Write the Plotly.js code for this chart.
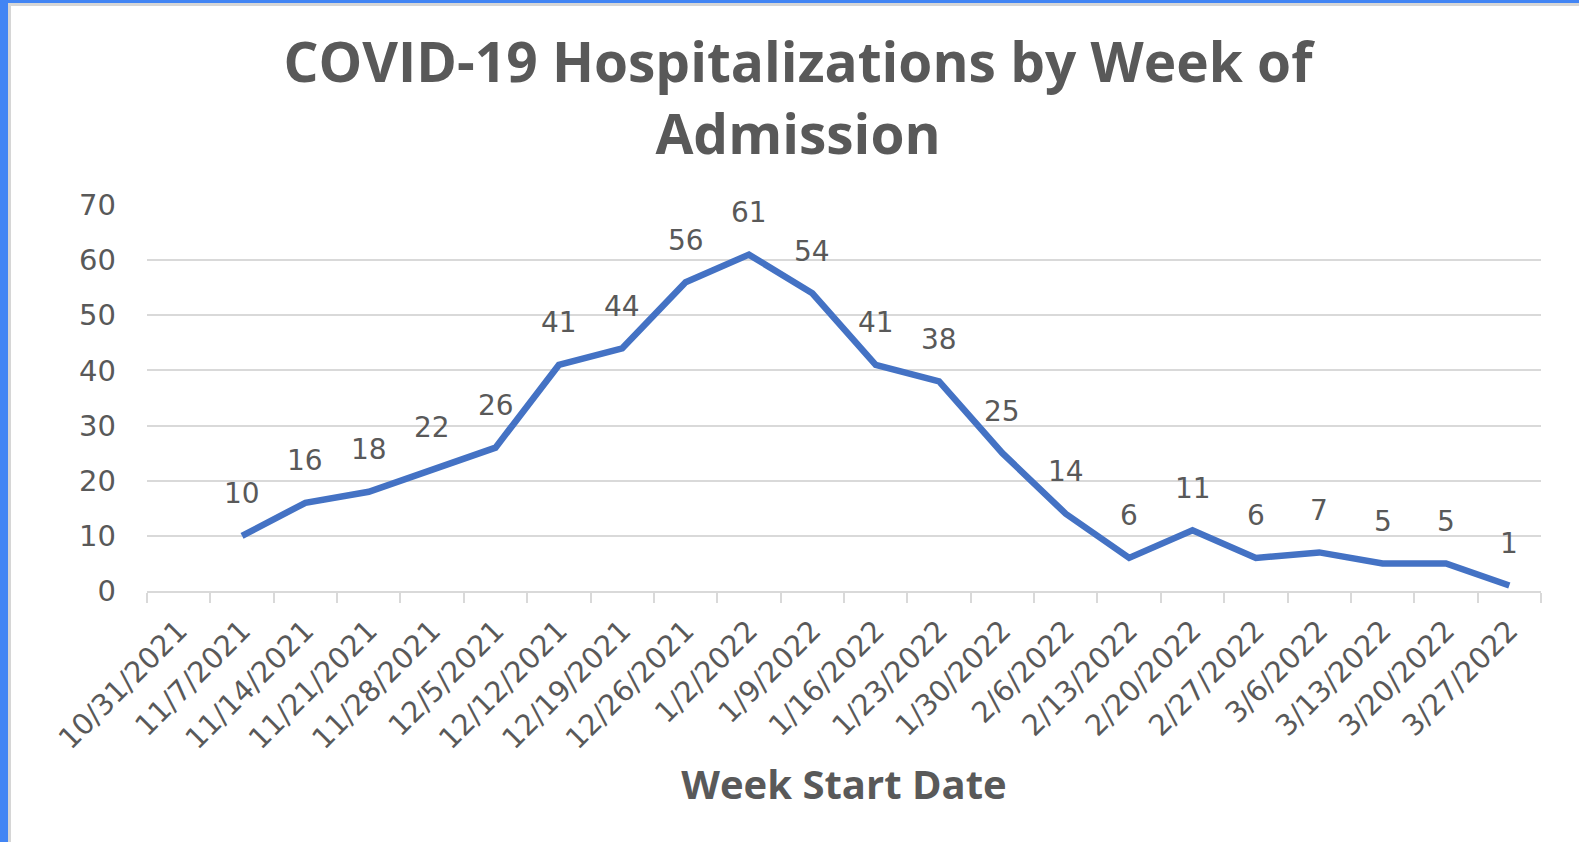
<!DOCTYPE html>
<html>
<head>
<meta charset="utf-8">
<script src="https://cdn.plot.ly/plotly-3.0.1.min.js"></script>
<style>
  html, body { margin: 0; padding: 0; background: #ffffff; overflow: hidden; }
  #chart { width: 1579px; height: 842px; position: absolute; left: 0; top: 0; }
  .edge { position: absolute; }
</style>
</head>
<body>
<div id="chart"></div>
<div class="edge" style="left:0;top:0;width:1579px;height:3px;background:#4285F4;"></div>
<div class="edge" style="left:0;top:3px;width:1579px;height:3px;background:#d6d6d6;"></div>
<div class="edge" style="left:0;top:0;width:8px;height:842px;background:#4285F4;"></div>
<div class="edge" style="left:8px;top:6px;width:3px;height:836px;background:#d6d6d6;"></div>
<script>
const categories = ["10/31/2021","11/7/2021","11/14/2021","11/21/2021","11/28/2021","12/5/2021",
  "12/12/2021","12/19/2021","12/26/2021","1/2/2022","1/9/2022","1/16/2022","1/23/2022",
  "1/30/2022","2/6/2022","2/13/2022","2/20/2022","2/27/2022","3/6/2022","3/13/2022",
  "3/20/2022","3/27/2022"];
const hospitalizations = [null,10,16,18,22,26,41,44,56,61,54,41,38,25,14,6,11,6,7,5,5,1];
const yTicks = [0,10,20,30,40,50,60,70];

const textColor = "#595959";
const gridColor = "#d9d9d9";
const tickFont = {family: "DejaVu Sans", size: 29, color: textColor};
const labelFont = {family: "DejaVu Sans", size: 28, color: textColor};

const trace = {
  type: "scatter",
  mode: "lines",
  x: categories,
  y: hospitalizations,
  connectgaps: false,
  line: {color: "#4472C4", width: 6.5},
  hoverinfo: "x+y"
};

const annotations = [];
categories.forEach((c, i) => {
  const v = hospitalizations[i];
  if (v === null) return;
  annotations.push({
    x: c, y: v, xref: "x", yref: "y",
    text: String(v), showarrow: false,
    yanchor: "middle", yshift: 42,
    font: labelFont
  });
});

const layout = {
  width: 1579, height: 842,
  paper_bgcolor: "#ffffff", plot_bgcolor: "#ffffff",
  margin: {l: 147, r: 38, t: 205, b: 251, pad: 0},
  showlegend: false,
  title: {
    text: "<b>COVID-19 Hospitalizations by Week of<br>Admission</b>",
    font: {family: "Open Sans", size: 55, color: textColor},
    x: 798 / 1579, xanchor: "center", xref: "container",
    y: 1 - 82 / 842, yanchor: "middle", yref: "container"
  },
  xaxis: {
    type: "category",
    categoryarray: categories,
    range: [-0.5, categories.length - 0.5],
    tickson: "boundaries",
    ticks: "outside", ticklen: 10, tickwidth: 2, tickcolor: gridColor,
    showline: true, linecolor: gridColor, linewidth: 2,
    showgrid: false, zeroline: false,
    tickangle: -45,
    ticklabelstandoff: 9,
    tickfont: tickFont,
    title: {
      text: "<b>Week Start Date</b>",
      font: {family: "Open Sans", size: 40, color: textColor},
      standoff: 5
    },
    automargin: false
  },
  yaxis: {
    range: [0, 70],
    tickvals: yTicks,
    ticktext: yTicks.map(String),
    showgrid: true, gridcolor: gridColor, gridwidth: 2,
    zeroline: false, showline: false,
    ticks: "", ticklabelstandoff: 30,
    tickfont: tickFont,
    automargin: false
  },
  annotations: annotations
};

Plotly.newPlot("chart", [trace], layout, {displayModeBar: false, staticPlot: true});
</script>
</body>
</html>
